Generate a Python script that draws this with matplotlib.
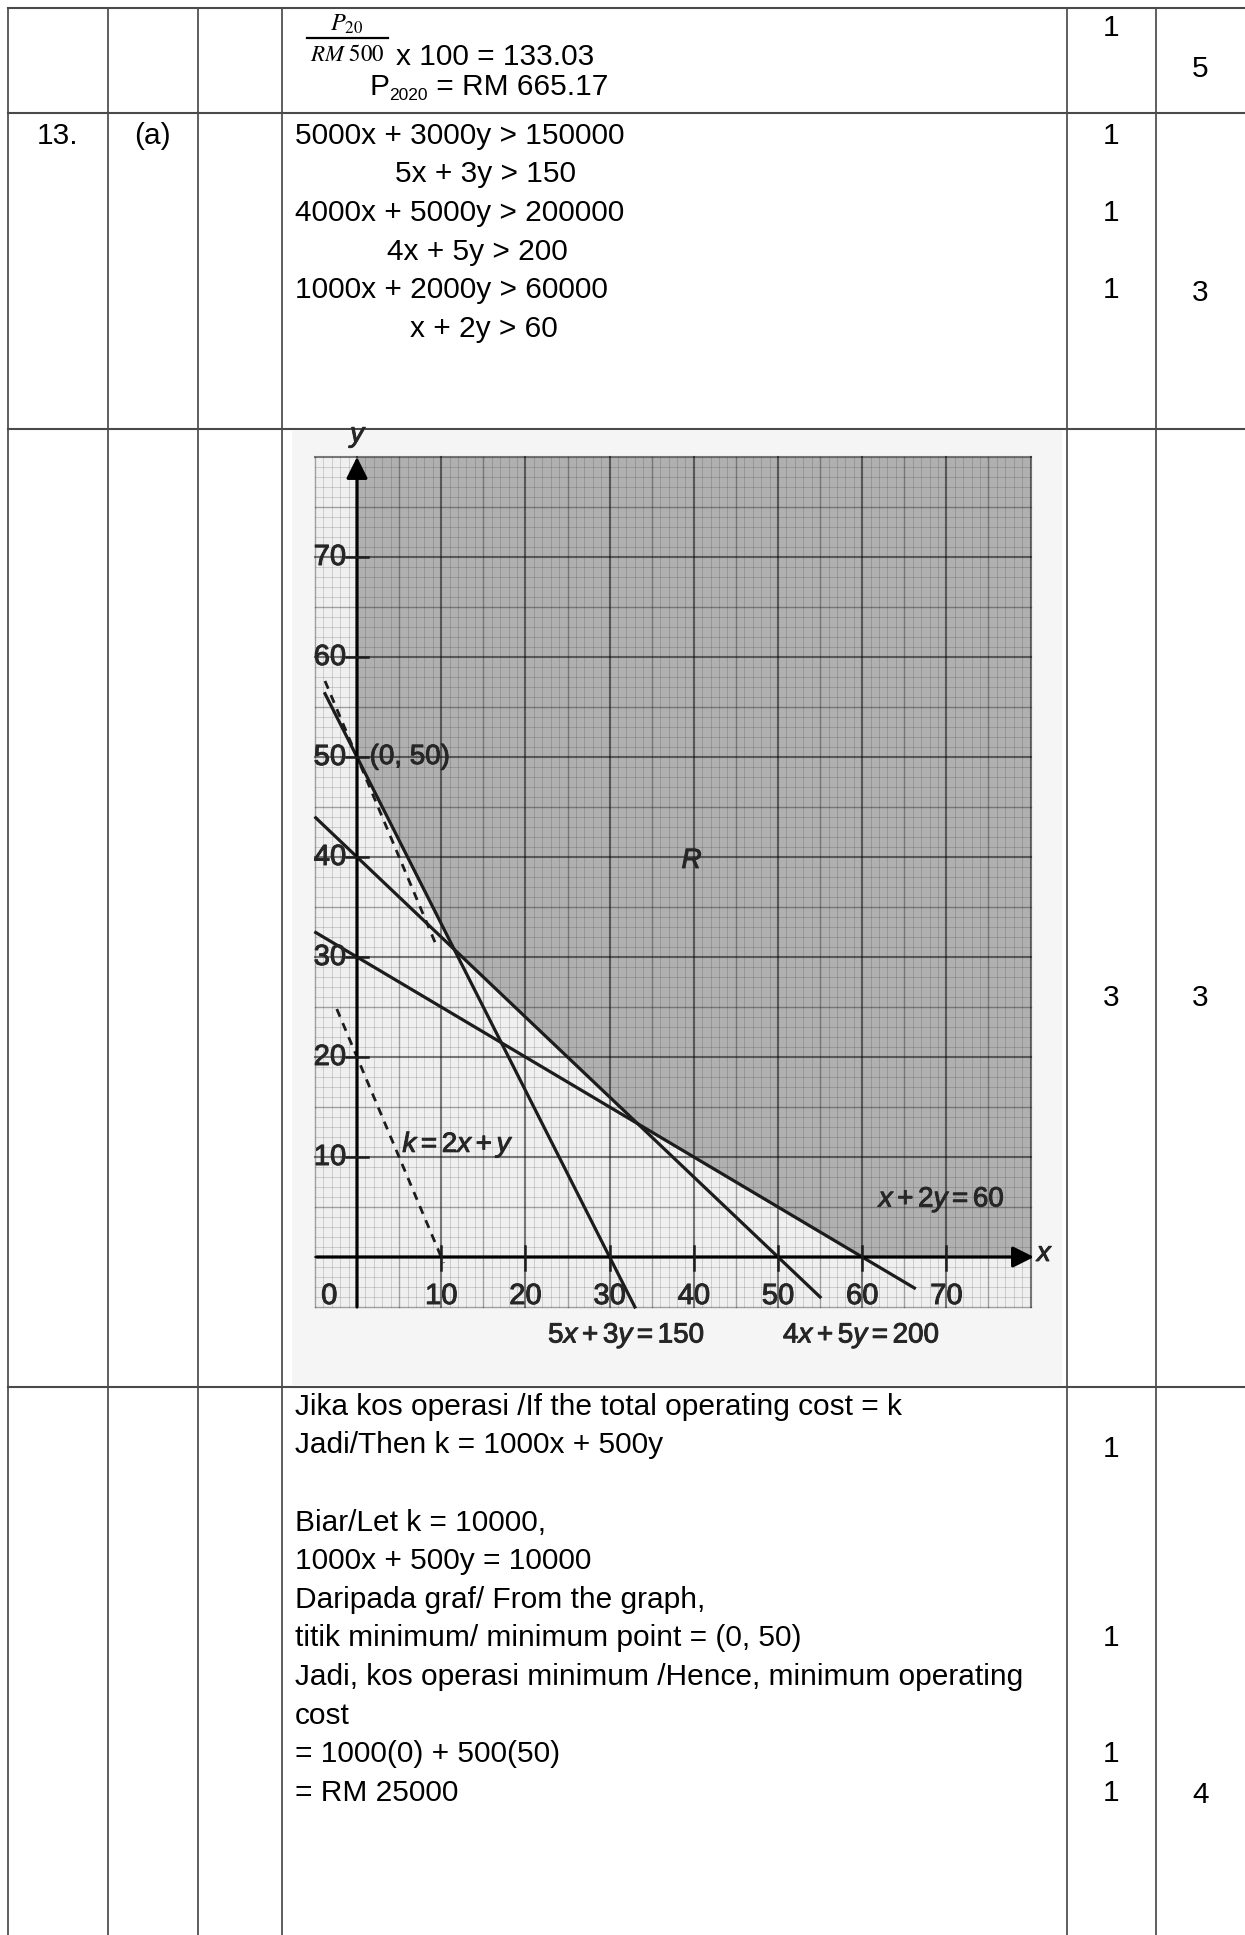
import numpy as np
import matplotlib.pyplot as plt
import matplotlib.patheffects as pe

plt.rcParams['font.family'] = ['Liberation Sans', 'DejaVu Sans']
plt.rcParams['mathtext.fontset'] = 'custom'
plt.rcParams['mathtext.rm'] = 'Liberation Sans'
plt.rcParams['mathtext.it'] = 'Liberation Sans:italic'
plt.rcParams['mathtext.bf'] = 'Liberation Sans:bold'

# ---- graph data: constraint lines a*x + b*y = c
line_a = [5, 4, 1]
line_b = [3, 5, 2]
line_c = [150, 200, 60]
line_x0 = [-3.8, -4.9, -4.9]
line_x1 = [33, 55, 66.2]
line_names = [r'$5x + 3y = 150$', r'$4x + 5y = 200$', r'$x + 2y = 60$']

# objective k = 2x + y (dashed trial lines)
obj_a, obj_b = 2, 1
obj_k = [20, 50]
obj_x0 = [-2.4, -3.8]
obj_x1 = [10.3, 9.5]

ticks = [10, 20, 30, 40, 50, 60, 70]
min_point = (0, 50)

# ---- table text
row1_num = r'$P_{20}$'
row1_den = r'$RM\ 500$'
row1_eq = 'x 100 = 133.03'
row1_ans = ['P', '2020', ' = RM 665.17']
row1_marks = ['1', '5']

q_no = '13.'
q_part = '(a)'
part_a = ['5000x + 3000y > 150000', '5x + 3y > 150',
          '4000x + 5000y > 200000', '4x + 5y > 200',
          '1000x + 2000y > 60000', 'x + 2y > 60']
part_a_marks = {0: '1', 2: '1', 4: '1'}
part_a_total = '3'
graph_marks = ['3', '3']

part_c = ['Jika kos operasi /If the total operating cost = k',
          'Jadi/Then k = 1000x + 500y',
          '',
          'Biar/Let k = 10000,',
          '1000x + 500y = 10000',
          'Daripada graf/ From the graph,',
          'titik minimum/ minimum point = (0, 50)',
          'Jadi, kos operasi minimum /Hence, minimum operating',
          'cost',
          '= 1000(0) + 500(50)',
          '= RM 25000']
part_c_marks = {1: '1', 6: '1', 9: '1', 10: '1'}
part_c_total = '4'

# ---- layout (pixels)
W, H = 1245, 1935
col_x = [7.5, 107.5, 197.5, 281.5, 1067, 1156]
row_y = [8, 113, 429, 1387]
FS = 21.5
half_cap = 10.7
lh = 38.6
mark_x = (col_x[4] + col_x[5]) / 2
total_x = (col_x[5] + W) / 2

fig = plt.figure(figsize=(W / 100, H / 100), dpi=100)
ax = fig.add_axes([0, 0, 1, 1])
ax.set_xlim(0, W)
ax.set_ylim(H, 0)
ax.axis('off')
rend = fig.canvas.get_renderer()

for x in col_x:
    ax.plot([x, x], [row_y[0], H], color='#333333', lw=1.1)
for y in row_y:
    ax.plot([col_x[0], W], [y, y], color='#4a4a4a', lw=1.5)


def put(s, x, yc, ha='left', fs=FS, dy=0.0):
    return ax.text(x, yc + half_cap + dy, s, ha=ha, va='baseline', fontsize=fs, color='black')


# row 1
ax.text(347, 24, row1_num, ha='center', va='center', fontsize=17.5, math_fontfamily='stix')
ax.plot([307, 388], [38, 38], color='black', lw=1.6)
ax.text(347, 54, row1_den, ha='center', va='center', fontsize=16.5, math_fontfamily='stix')
put(row1_eq, 396, 54)
xx = 369
t = put(row1_ans[0], xx, 84)
xx += t.get_window_extent(renderer=rend).width
t = put(row1_ans[1], xx, 84, fs=12.5, dy=5)
xx += t.get_window_extent(renderer=rend).width
put(row1_ans[2], xx, 84)
put(row1_marks[0], mark_x, 25, ha='center')
put(row1_marks[1], total_x, 66, ha='center')

# row 2
y0 = 133
put(q_no, (col_x[0] + col_x[1]) / 2, y0, ha='center')
put(q_part, (col_x[1] + col_x[2]) / 2, y0, ha='center')
indent = [295, 395, 295, 387, 295, 410]
for i, s in enumerate(part_a):
    put(s, indent[i], y0 + i * lh)
for i, m in part_a_marks.items():
    put(m, mark_x, y0 + i * lh, ha='center')
put(part_a_total, total_x, y0 + 4 * lh + 3, ha='center')

# row 3 marks
put(graph_marks[0], mark_x, 995, ha='center')
put(graph_marks[1], total_x, 995, ha='center')

# row 4
y4 = 1404
for i, s in enumerate(part_c):
    if s:
        put(s, 295, y4 + i * lh)
for i, m in part_c_marks.items():
    put(m, mark_x, y4 + i * lh + (4 if i == 1 else 0), ha='center')
put(part_c_total, total_x, y4 + 10 * lh + 2, ha='center')

# ---- graph (scanned graph paper look)
gx0, gx1, gy0, gy1 = 292, 1062, 430, 1385
ox, oy, sx, sy = 357, 1257, 8.42, 10.0
g = fig.add_axes([gx0 / W, 1 - gy1 / H, (gx1 - gx0) / W, (gy1 - gy0) / H])
g.set_xlim((gx0 - ox) / sx, (gx1 - ox) / sx)
g.set_ylim((oy - gy1) / sy, (oy - gy0) / sy)
g.axis('off')
g.add_patch(plt.Rectangle((-10, -20), 100, 110, color='#f5f5f5', zorder=0))
g.add_patch(plt.Rectangle((-5, -5), 85, 85, color='#efefef', zorder=1))

xs = np.linspace(0, 80, 801)
env = np.max([(c - a * xs) / b for a, b, c in zip(line_a, line_b, line_c)], axis=0)
env = np.clip(env, 0, None)
g.fill_between(xs, env, 80, color='#b0b0b0', lw=0, zorder=2)

for v in range(-5, 81):
    if v % 10 == 0:
        lw, al = 1.5, 0.5
    elif v % 5 == 0:
        lw, al = 1.0, 0.33
    else:
        lw, al = 0.6, 0.17
    g.plot([v, v], [-5, 80], color='black', lw=lw, alpha=al, zorder=3)
    g.plot([-5, 80], [v, v], color='black', lw=lw, alpha=al, zorder=3)

ink = '#1c1c1c'
for a, b, c, x0, x1 in zip(line_a, line_b, line_c, line_x0, line_x1):
    xx = np.array([x0, x1])
    g.plot(xx, (c - a * xx) / b, color=ink, lw=2.3, zorder=5)
for k, x0, x1 in zip(obj_k, obj_x0, obj_x1):
    xx = np.array([x0, x1])
    g.plot(xx, (k - obj_a * xx) / obj_b, color=ink, lw=2.0, ls=(0, (3, 2.5)), zorder=5)

arrow = dict(arrowstyle='-|>', lw=2.3, color='black', mutation_scale=32, shrinkA=0, shrinkB=0)
g.annotate('', xy=(80.4, 0), xytext=(-4.8, 0), arrowprops=arrow, zorder=6)
g.annotate('', xy=(0, 80), xytext=(0, -5), arrowprops=arrow, zorder=6)

txt = '#262626'
fx = [pe.withStroke(linewidth=0.7, foreground=txt)]
kw = dict(color=txt, zorder=7, path_effects=fx)
tfs = 21
lfs = 20
for t in ticks:
    g.plot([-1.3, 1.3], [t, t], color=ink, lw=1.8, zorder=6)
    g.plot([t, t], [-1.3, 1.1], color=ink, lw=1.8, zorder=6)
    g.text(-1.3, t, str(t), ha='right', va='center', fontsize=tfs, **kw)
    g.text(t, -3.9, str(t), ha='center', va='center', fontsize=tfs, **kw)
g.text(-3.3, -3.9, '0', ha='center', va='center', fontsize=tfs, **kw)
g.text(81.8, 0.3, r'$x$', ha='center', va='center', fontsize=lfs, **kw)
g.text(0.3, 82.0, r'$y$', ha='center', va='center', fontsize=lfs, **kw)

g.text(min_point[0] + 1.5, min_point[1], '(%d, %d)' % min_point, ha='left', va='center',
       fontsize=lfs, **kw)
g.text(39.8, 39.6, r'$R$', ha='center', va='center', fontsize=lfs, **kw)
g.text(12.0, 11.2, r'$k = 2x + y$', ha='center', va='center', fontsize=lfs, **kw)
g.text(69.5, 5.7, line_names[2], ha='center', va='center', fontsize=lfs, **kw)
g.text(32.0, -7.9, line_names[0], ha='center', va='center', fontsize=lfs, **kw)
g.text(59.9, -7.9, line_names[1], ha='center', va='center', fontsize=lfs, **kw)

fig.savefig('out.png', dpi=100)
